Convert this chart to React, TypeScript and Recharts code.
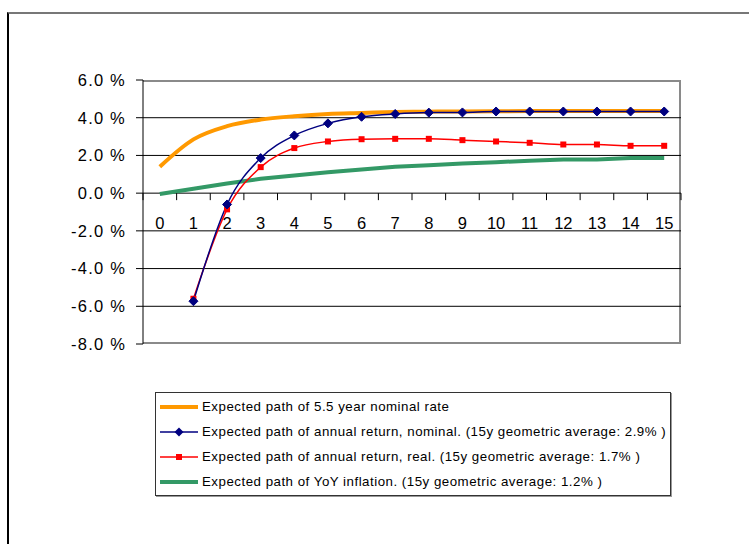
import React from "react";
import { LineChart, Line, XAxis, YAxis, ReferenceLine } from "recharts";

// years ahead
const years = ["0", "1", "2", "3", "4", "5", "6", "7", "8", "9", "10", "11", "12", "13", "14", "15"];

// values in percent
const nominalRate = [1.4, 2.85, 3.55, 3.9, 4.08, 4.2, 4.25, 4.3, 4.32, 4.33, 4.34, 4.35, 4.35, 4.35, 4.35, 4.35];
const returnNominal = [null, -5.73, -0.6, 1.86, 3.06, 3.7, 4.05, 4.2, 4.27, 4.28, 4.33, 4.33, 4.33, 4.33, 4.33, 4.33];
const returnReal = [null, -5.6, -0.86, 1.38, 2.39, 2.74, 2.86, 2.88, 2.88, 2.81, 2.74, 2.67, 2.58, 2.58, 2.51, 2.51];
const inflation = [-0.05, 0.23, 0.51, 0.76, 0.94, 1.11, 1.26, 1.4, 1.48, 1.57, 1.64, 1.72, 1.79, 1.79, 1.86, 1.86];

const yTicks = [-8, -6, -4, -2, 0, 2, 4, 6];
const gridValues = [-6, -4, -2, 2, 4];

const series = [
  { key: "rate", name: "Expected path of 5.5 year nominal rate", color: "#FF9900", width: 4, marker: "none" },
  { key: "nominal", name: "Expected path of annual return, nominal. (15y geometric average: 2.9% )", color: "#000080", width: 1.5, marker: "diamond" },
  { key: "real", name: "Expected path of annual return, real. (15y geometric average: 1.7% )", color: "#FF0000", width: 1.5, marker: "square" },
  { key: "infl", name: "Expected path of YoY inflation. (15y geometric average: 1.2% )", color: "#339966", width: 4, marker: "none" },
];

const data = years.map((year, i) => ({
  year,
  rate: nominalRate[i],
  nominal: returnNominal[i],
  real: returnReal[i],
  infl: inflation[i],
}));

const W = 749;
const H = 544;
const PLOT_LEFT = 143;
const PLOT_RIGHT = 681;
const PLOT_TOP = 80;
const PLOT_BOTTOM = 344;
const Y_MIN = -8;
const Y_MAX = 6;
const Y_AXIS_W = 60;
const X_AXIS_H = 20;
const BAND = (PLOT_RIGHT - PLOT_LEFT) / years.length;
const ZERO_Y = PLOT_TOP + ((PLOT_BOTTOM - PLOT_TOP) * Y_MAX) / (Y_MAX - Y_MIN);

const FONT = '"Liberation Sans", Arial, sans-serif';

function Diamond(props: any) {
  const { cx, cy, index } = props;
  if (cx == null || cy == null || props.value == null) return <g key={`d${index}`} />;
  const r = 4.5;
  return (
    <polygon
      key={`d${index}`}
      points={`${cx},${cy - r} ${cx + r},${cy} ${cx},${cy + r} ${cx - r},${cy}`}
      fill="#000080"
      stroke="#000080"
    />
  );
}

function Square(props: any) {
  const { cx, cy, index } = props;
  if (cx == null || cy == null || props.value == null) return <g key={`s${index}`} />;
  const s = 3;
  return <rect key={`s${index}`} x={cx - s} y={cy - s} width={s * 2} height={s * 2} fill="#FF0000" />;
}

// category labels sit on the zero line, ticks between categories
function YearTick(props: any) {
  const { x, payload, index } = props;
  const left = x - BAND / 2;
  return (
    <g>
      <line x1={left} y1={ZERO_Y} x2={left} y2={ZERO_Y + 7} stroke="#000" />
      {index === years.length - 1 && (
        <line x1={x + BAND / 2} y1={ZERO_Y} x2={x + BAND / 2} y2={ZERO_Y + 7} stroke="#000" />
      )}
      <text x={x} y={ZERO_Y + 36} textAnchor="middle" fontSize={16.5} fontFamily={FONT} fill="#000">
        {payload.value}
      </text>
    </g>
  );
}

function Swatch({ color, width, marker }: { color: string; width: number; marker: string }) {
  return (
    <svg width={38} height={12} style={{ display: "block", flex: "none" }}>
      <line x1={0} y1={6} x2={38} y2={6} stroke={color} strokeWidth={width} />
      {marker === "diamond" && <polygon points="19,1.5 23.5,6 19,10.5 14.5,6" fill={color} />}
      {marker === "square" && <rect x={16} y={3} width={6} height={6} fill={color} />}
    </svg>
  );
}

export default function App() {
  return (
    <div style={{ position: "absolute", left: 0, top: 0, width: W, height: H, overflow: "hidden", background: "#fff" }}>
      <div
        style={{
          position: "absolute",
          left: 7,
          top: 12,
          width: W,
          height: H,
          borderLeft: "2px solid #000",
          borderTop: "2px solid #777",
        }}
      />
      <div
        style={{
          position: "absolute",
          left: PLOT_LEFT,
          top: PLOT_TOP,
          width: PLOT_RIGHT - PLOT_LEFT,
          height: PLOT_BOTTOM - PLOT_TOP,
          boxSizing: "border-box",
          border: "2px solid #8a8a8a",
          borderLeft: "none",
        }}
      />
      <div style={{ position: "absolute", left: 0, top: 0 }}>
        <LineChart
          width={W}
          height={H}
          data={data}
          margin={{
            top: PLOT_TOP,
            left: PLOT_LEFT - Y_AXIS_W,
            right: W - PLOT_RIGHT,
            bottom: H - PLOT_BOTTOM - X_AXIS_H,
          }}
        >
          {gridValues.map((v) => (
            <ReferenceLine key={v} y={v} stroke="#000" strokeWidth={1} />
          ))}
          <ReferenceLine y={0} stroke="#000" strokeWidth={1} />
          <XAxis
            dataKey="year"
            height={X_AXIS_H}
            axisLine={false}
            tickLine={false}
            interval={0}
            padding={{ left: BAND / 2, right: BAND / 2 }}
            tick={<YearTick />}
          />
          <YAxis
            width={Y_AXIS_W}
            domain={[Y_MIN, Y_MAX]}
            ticks={yTicks}
            interval={0}
            allowDataOverflow
            axisLine={{ stroke: "#000" }}
            tickLine={{ stroke: "#000" }}
            tickSize={7}
            tickMargin={10}
            tickFormatter={(v: number) => `${v.toFixed(1)} %`}
            tick={{ fontSize: 16.5, fontFamily: FONT, fill: "#000", letterSpacing: 1.2 }}
          />
          <Line dataKey="rate" type="monotone" stroke="#FF9900" strokeWidth={4} dot={false} isAnimationActive={false} />
          <Line dataKey="infl" type="linear" stroke="#339966" strokeWidth={4} dot={false} isAnimationActive={false} />
          <Line dataKey="real" type="monotone" stroke="#FF0000" strokeWidth={1.5} dot={<Square />} isAnimationActive={false} />
          <Line dataKey="nominal" type="monotone" stroke="#000080" strokeWidth={1.5} dot={<Diamond />} isAnimationActive={false} />
        </LineChart>
      </div>
      <div
        style={{
          position: "absolute",
          left: 155,
          top: 392,
          width: 516,
          height: 104,
          boxSizing: "border-box",
          border: "1px solid #333",
          boxShadow: "1px 1px 0 #999",
          padding: "1px 0 0 4px",
          fontFamily: FONT,
          fontSize: 13.3,
          letterSpacing: 0.5,
          color: "#000",
        }}
      >
        {series.map((s) => (
          <div key={s.key} style={{ display: "flex", alignItems: "center", height: 25, whiteSpace: "nowrap" }}>
            <Swatch color={s.color} width={s.width} marker={s.marker} />
            <span style={{ marginLeft: 4 }}>{s.name}</span>
          </div>
        ))}
      </div>
    </div>
  );
}
